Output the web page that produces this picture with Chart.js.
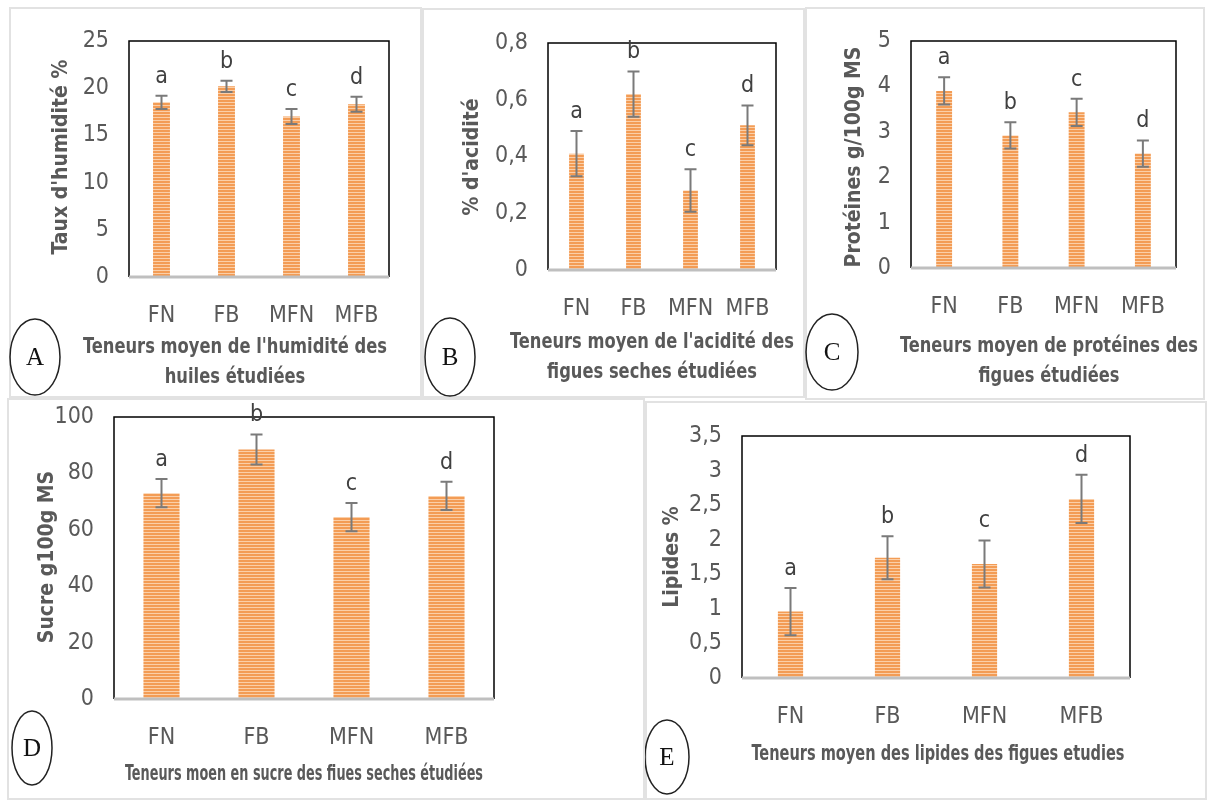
<!DOCTYPE html>
<html>
<head>
<meta charset="utf-8">
<script src="https://cdn.jsdelivr.net/npm/chart.js@4.4.1/dist/chart.umd.min.js"></script>
<style>
  body { margin: 0; background: #fff; width: 1211px; height: 800px; position: relative; overflow: hidden; }
  .panel { position: absolute; box-sizing: border-box; border: 2px solid #e2e2e2; }
  canvas { position: absolute; }
</style>
</head>
<body>
<script>
// données
const categories = ["FN", "FB", "MFN", "MFB"];
const letters = ["a", "b", "c", "d"];

const humidite = [18.5, 20.2, 17.0, 18.3];
const humiditeErr = [0.7, 0.6, 0.8, 0.8];

const acidite = [0.41, 0.62, 0.28, 0.51];
const aciditeErr = [0.08, 0.08, 0.075, 0.07];

const proteines = [3.9, 2.92, 3.43, 2.52];
const proteinesErr = [0.3, 0.29, 0.3, 0.29];

const sucre = [73, 88.5, 64.5, 72];
const sucreErr = [5, 5.3, 5, 5];

const lipides = [0.96, 1.74, 1.65, 2.59];
const lipidesErr = [0.34, 0.31, 0.34, 0.35];

const FONT = "'Liberation Sans Narrow', 'DejaVu Sans Condensed', 'Liberation Sans', sans-serif";
Chart.defaults.font.family = FONT;
Chart.defaults.color = "#595959";

// mise en page des panneaux (coordonnées de la page)
const panels = [
    {
        values: humidite, errors: humiditeErr, max: 25, step: 5,
        frame: [9, 7, 422, 398], plot: [129, 41, 389, 277], barPct: 0.26,
        yTitle: "Taux d'humidité %", yTitlePos: [62, 157],
        xTitle: ["Teneurs moyen de l'humidité des", "huiles étudiées"], xTitlePos: [235, 348], xTitleWidth: 304,
        letter: "A", circle: [35, 357, 25, 38]
    },
    {
        values: acidite, errors: aciditeErr, max: 0.8, step: 0.2,
        frame: [422, 8, 805, 398], plot: [548, 43, 776, 270], barPct: 0.26,
        yTitle: "% d'acidité", yTitlePos: [473, 157],
        xTitle: ["Teneurs moyen de l'acidité des", "figues seches étudiées"], xTitlePos: [652, 343], xTitleWidth: 284,
        letter: "B", circle: [450, 357, 25, 39]
    },
    {
        values: proteines, errors: proteinesErr, max: 5, step: 1,
        frame: [805, 7, 1205, 400], plot: [911, 41, 1176, 268], barPct: 0.24,
        yTitle: "Protéines g/100g MS", yTitlePos: [855, 157],
        xTitle: ["Teneurs moyen de protéines des", "figues étudiées"], xTitlePos: [1049, 347], xTitleWidth: 298,
        letter: "C", circle: [832, 352, 26, 38]
    },
    {
        values: sucre, errors: sucreErr, max: 100, step: 20,
        frame: [7, 398, 645, 800], plot: [114, 417, 494, 699], barPct: 0.38,
        yTitle: "Sucre g100g MS", yTitlePos: [48, 557],
        xTitle: ["Teneurs moen en sucre des fiues seches étudiées"], xTitlePos: [304, 775], xTitleWidth: 358,
        letter: "D", circle: [32, 748, 20, 37]
    },
    {
        values: lipides, errors: lipidesErr, max: 3.5, step: 0.5,
        frame: [645, 401, 1207, 800], plot: [742, 436, 1130, 678], barPct: 0.26,
        yTitle: "Lipides %", yTitlePos: [673, 557],
        xTitle: ["Teneurs moyen des lipides des figues etudies"], xTitlePos: [938, 755], xTitleWidth: 373,
        letter: "E", circle: [667, 757, 22, 37]
    }
];

function stripePattern() {
    const c = document.createElement("canvas");
    c.width = 4; c.height = 3;
    const g = c.getContext("2d");
    g.fillStyle = "#f39c55";
    g.fillRect(0, 0, 4, 3);
    g.fillStyle = "#fbcfa8";
    g.fillRect(0, 2, 4, 1);
    return g.createPattern(c, "repeat");
}

// texte resserré pour imiter la police étroite de l'original
function narrowText(ctx, text, x, y, squeeze) {
    ctx.save();
    ctx.translate(x, y);
    ctx.scale(squeeze, 1);
    ctx.fillText(text, 0, 0);
    ctx.restore();
}

const extras = {
    id: "extras",
    afterDatasetsDraw(chart, args, p) {
        const ctx = chart.ctx;
        const y = chart.scales.y;
        const area = chart.chartArea;
        const meta = chart.getDatasetMeta(0);
        const ox = p.frame[0], oy = p.frame[1];
        ctx.save();

        // cadre noir du graphique
        ctx.strokeStyle = "#000";
        ctx.lineWidth = 1.5;
        ctx.beginPath();
        ctx.moveTo(area.left, area.bottom);
        ctx.lineTo(area.left, area.top);
        ctx.lineTo(area.right, area.top);
        ctx.lineTo(area.right, area.bottom);
        ctx.stroke();
        ctx.strokeStyle = "#bfbfbf";
        ctx.lineWidth = 3;
        ctx.beginPath();
        ctx.moveTo(area.left, area.bottom);
        ctx.lineTo(area.right, area.bottom);
        ctx.stroke();

        // barres d'erreur et lettres
        meta.data.forEach((bar, i) => {
            const v = p.values[i], e = p.errors[i];
            const top = y.getPixelForValue(v + e);
            const bot = y.getPixelForValue(v - e);
            ctx.strokeStyle = "#7a7a7a";
            ctx.lineWidth = 2;
            ctx.beginPath();
            ctx.moveTo(bar.x, top); ctx.lineTo(bar.x, bot);
            ctx.moveTo(bar.x - 6, top); ctx.lineTo(bar.x + 6, top);
            ctx.moveTo(bar.x - 6, bot); ctx.lineTo(bar.x + 6, bot);
            ctx.stroke();
            ctx.fillStyle = "#404040";
            ctx.font = "23px " + FONT;
            ctx.textAlign = "center";
            ctx.textBaseline = "alphabetic";
            ctx.fillText(letters[i], bar.x, top - 13);
        });

        // titre de l'axe y
        ctx.fillStyle = "#595959";
        ctx.font = "bold 21px " + FONT;
        ctx.save();
        ctx.translate(p.yTitlePos[0] - ox, p.yTitlePos[1] - oy);
        ctx.rotate(-Math.PI / 2);
        ctx.textAlign = "center";
        ctx.textBaseline = "middle";
        ctx.fillText(p.yTitle, 0, 0);
        ctx.restore();

        // titre de l'axe x
        ctx.font = "bold 21px " + FONT;
        ctx.textAlign = "center";
        ctx.textBaseline = "middle";
        const squeeze = Math.min(1, p.xTitleWidth / ctx.measureText(p.xTitle[0]).width);
        p.xTitle.forEach((line, k) => {
            narrowText(ctx, line, p.xTitlePos[0] - ox, p.xTitlePos[1] - oy + k * 30, squeeze);
        });

        // lettre du panneau dans une ellipse
        const [cx, cy, rx, ry] = p.circle;
        ctx.strokeStyle = "#222";
        ctx.lineWidth = 1.5;
        ctx.beginPath();
        ctx.ellipse(cx - ox, cy - oy, rx, ry, 0, 0, Math.PI * 2);
        ctx.stroke();
        ctx.fillStyle = "#111";
        ctx.font = "25px 'Liberation Serif', serif";
        ctx.fillText(p.letter, cx - ox, cy - oy + 1);

        ctx.restore();
    }
};

panels.forEach(p => {
    const [fx, fy, fr, fb] = p.frame;
    const [pl, pt, pr, pb] = p.plot;
    const w = fr - fx, h = fb - fy;

    const div = document.createElement("div");
    div.className = "panel";
    div.style.left = fx + "px";
    div.style.top = fy + "px";
    div.style.width = w + "px";
    div.style.height = h + "px";
    document.body.appendChild(div);

    const canvas = document.createElement("canvas");
    canvas.width = w;
    canvas.height = h;
    canvas.style.left = fx + "px";
    canvas.style.top = fy + "px";
    document.body.appendChild(canvas);

    new Chart(canvas.getContext("2d"), {
        type: "bar",
        data: {
            labels: categories,
            datasets: [{
                data: p.values,
                backgroundColor: stripePattern(),
                borderWidth: 0,
                barPercentage: p.barPct,
                categoryPercentage: 1
            }]
        },
        options: {
            responsive: false,
            animation: false,
            layout: { padding: { left: 0, top: pt - fy, right: fr - pr, bottom: 0 } },
            plugins: { legend: { display: false }, tooltip: { enabled: false }, extras: p },
            scales: {
                x: {
                    grid: { display: false, drawTicks: false },
                    border: { display: false },
                    ticks: { padding: 25, font: { size: 23 }, color: "#595959" },
                    afterFit: s => {
                        s.height = fb - pb;
                        s.paddingLeft = 0;
                        s.paddingRight = 0;
                    }
                },
                y: {
                    min: 0, max: p.max,
                    grid: { display: false, drawTicks: false },
                    border: { display: false },
                    ticks: {
                        stepSize: p.step,
                        padding: 20,
                        font: { size: 23 },
                        color: "#595959",
                        callback: v => String(Number(v.toFixed(2))).replace(".", ",")
                    },
                    afterFit: s => {
                        s.width = pl - fx;
                        s.paddingTop = 0;
                        s.paddingBottom = 0;
                    }
                }
            }
        },
        plugins: [extras]
    });
});
</script>
</body>
</html>
